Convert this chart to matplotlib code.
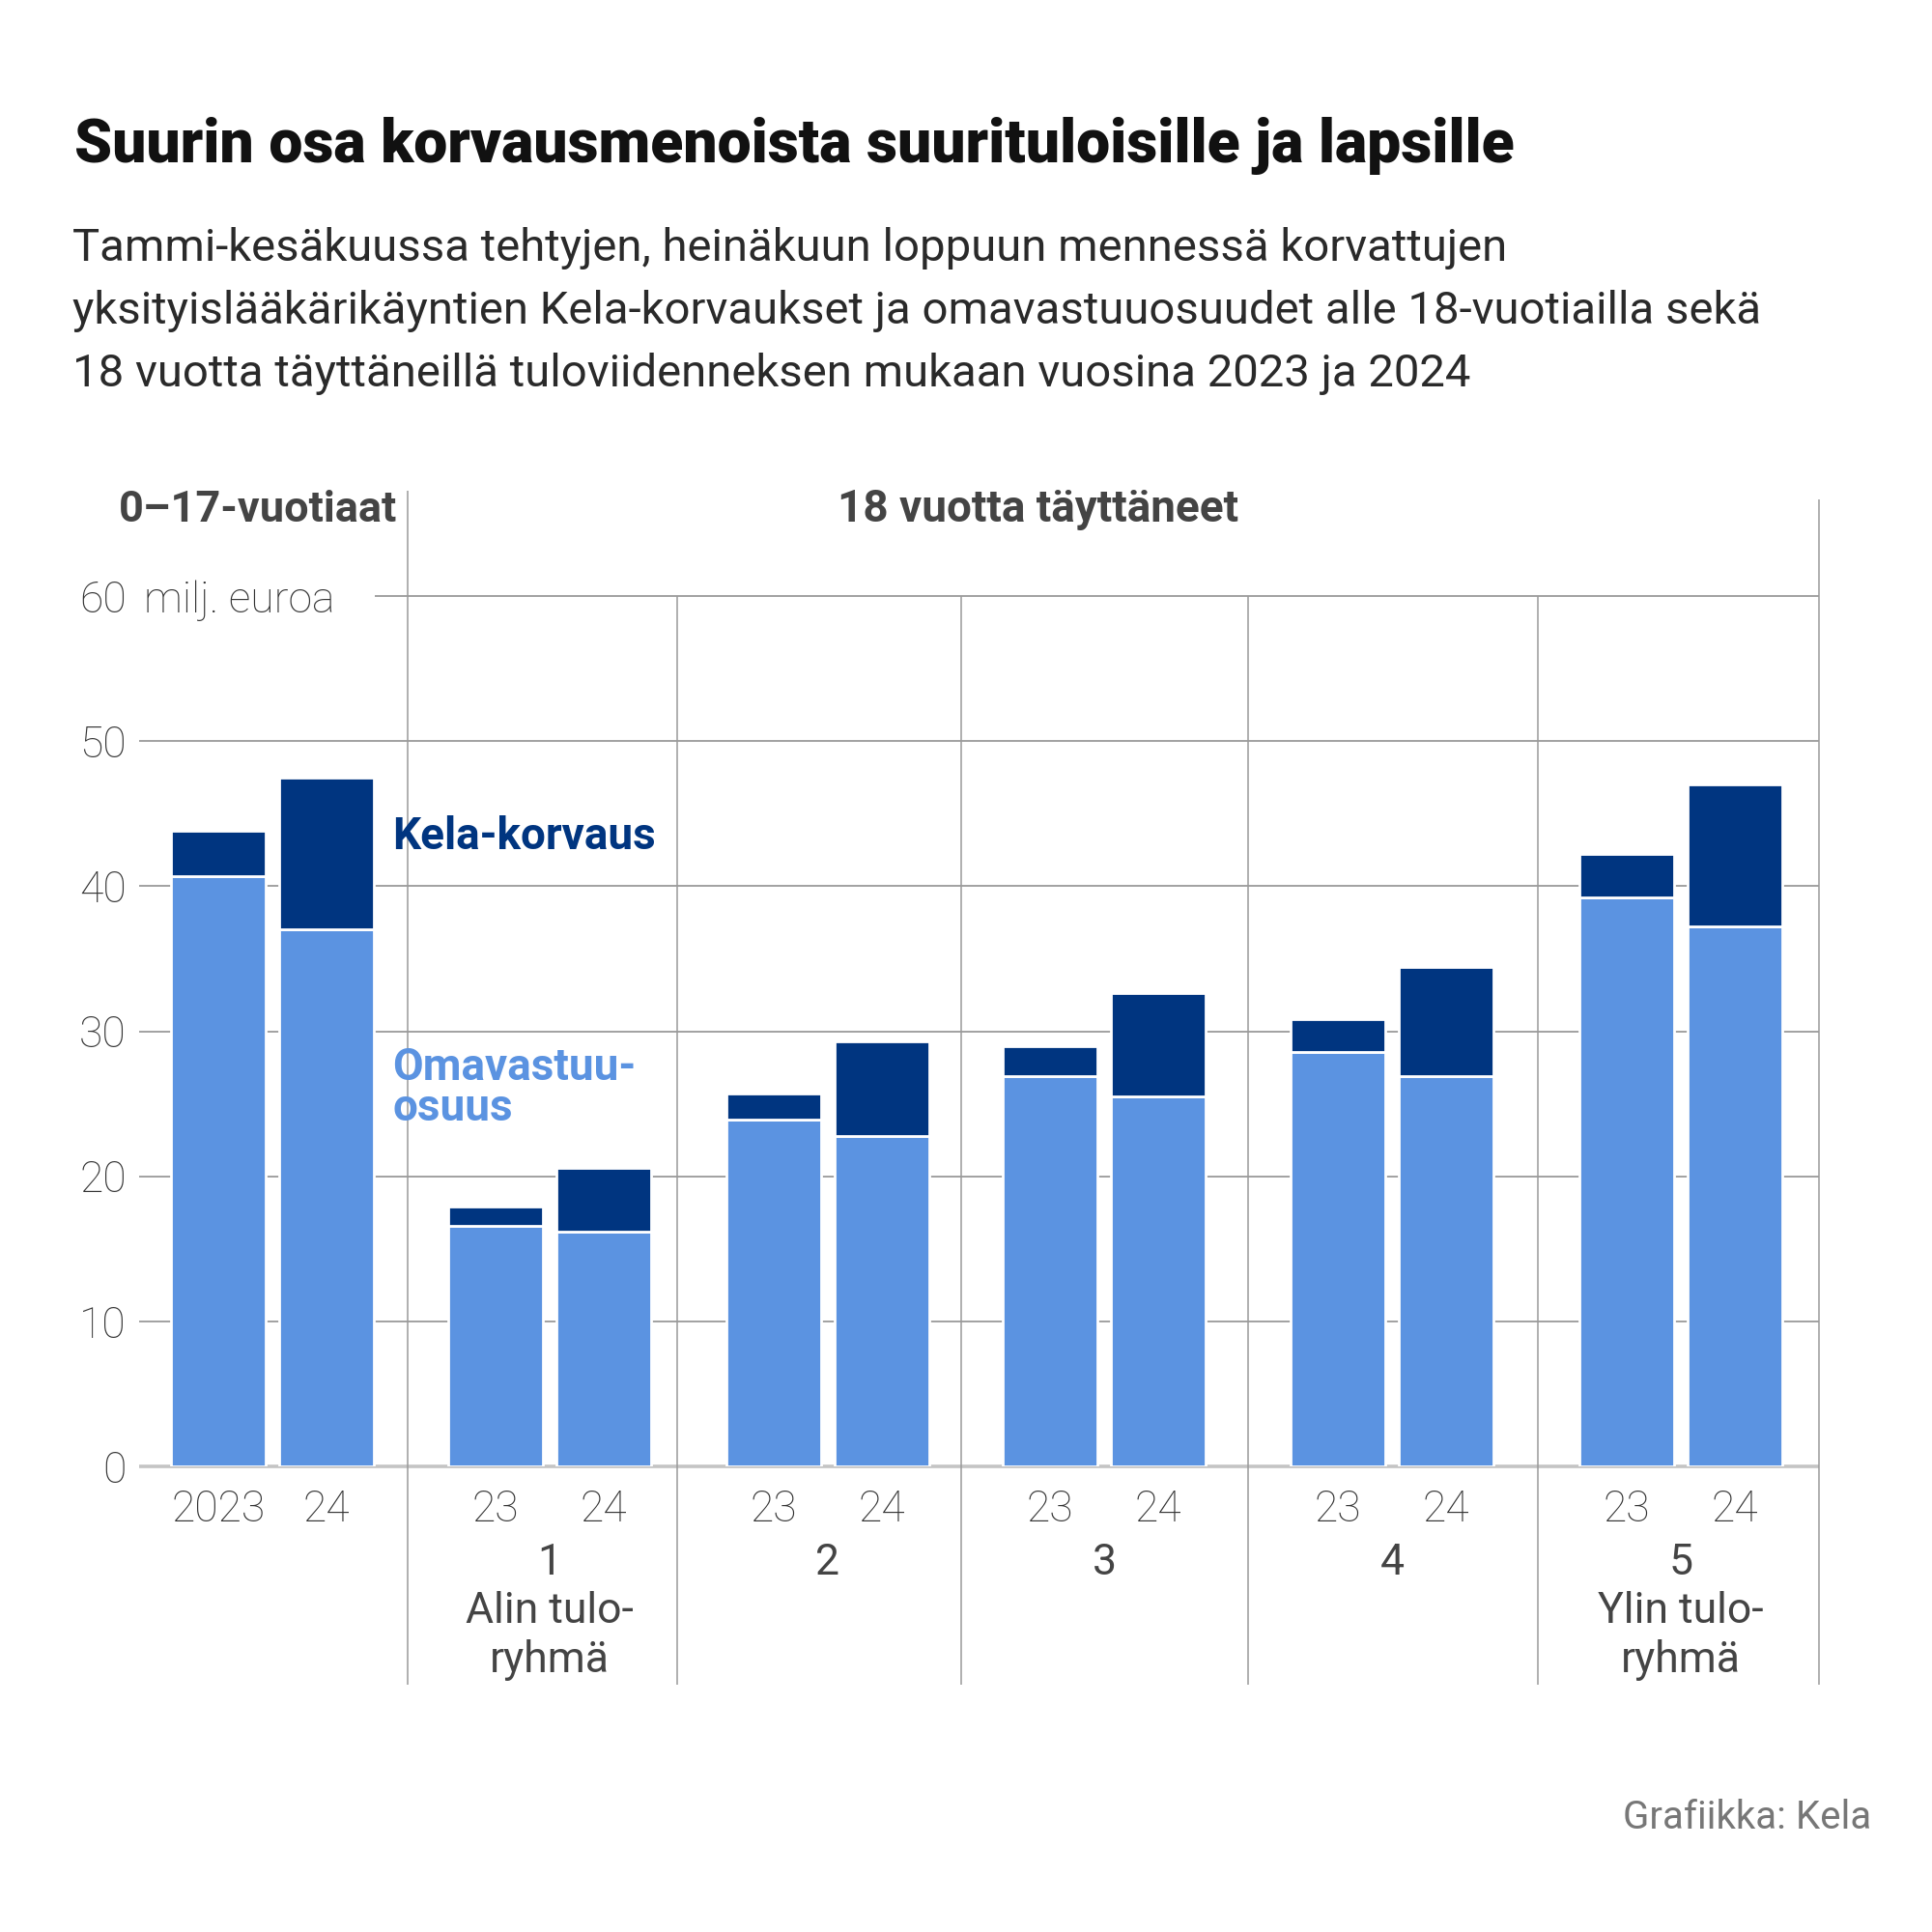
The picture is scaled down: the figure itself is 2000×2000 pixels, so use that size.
import matplotlib
matplotlib.use("Agg")
import matplotlib.pyplot as plt

# ---------------- data ----------------
groups = ["0–17-vuotiaat", "1", "2", "3", "4", "5"]
group_sublabels = [[], ["Alin tulo-", "ryhmä"], [], [], [], ["Ylin tulo-", "ryhmä"]]
year_labels_first = ["2023", "24"]
year_labels = ["23", "24"]
omavastuu_2023 = [40.7, 16.6, 23.9, 26.9, 28.6, 39.2]
omavastuu_2024 = [37.0, 16.2, 22.8, 25.5, 26.9, 37.2]
kela_2023 = [3.1, 1.3, 1.8, 2.1, 2.2, 3.0]
kela_2024 = [10.5, 4.4, 6.5, 7.1, 7.5, 9.8]
y_ticks = [0, 10, 20, 30, 40, 50, 60]

title = "Suurin osa korvausmenoista suurituloisille ja lapsille"
subtitle = ["Tammi-kesäkuussa tehtyjen, heinäkuun loppuun mennessä korvattujen",
            "yksityislääkärikäyntien Kela-korvaukset ja omavastuuosuudet alle 18-vuotiailla sekä",
            "18 vuotta täyttäneillä tuloviidenneksen mukaan vuosina 2023 ja 2024"]

# ---------------- style / layout ----------------
FONT = ["Roboto", "DejaVu Sans"]
plt.rcParams["font.family"] = FONT
C_LIGHT = "#5B93E1"
C_DARK = "#003580"
C_GRID = "#9a9a9a"
C_TEXT = "#333333"
W, H = 2000, 2000

# layout in reference pixels (x from left, y from top)
group_centers = [282, 569, 857, 1143, 1441, 1740]
bar_offset = 56
bar_width = 98
separators = [422, 701, 995, 1292, 1592, 1883]
X0, X1 = 144, 1883
Y_ZERO, Y_SIXTY = 1518, 617

fig = plt.figure(figsize=(20, 20), dpi=100)
ax = fig.add_axes([X0 / W, 1 - Y_ZERO / H, (X1 - X0) / W, (Y_ZERO - Y_SIXTY) / H])
ax.set_xlim(X0, X1)
ax.set_ylim(0, 60)
ax.axis("off")

def yval(py):
    return (Y_ZERO - py) / (Y_ZERO - Y_SIXTY) * 60

# gridlines
for t in y_ticks[1:-1]:
    ax.hlines(t, X0, X1, color=C_GRID, lw=1.3, zorder=1)
ax.hlines(60, 388, X1, color=C_GRID, lw=1.3, zorder=1, clip_on=False)
ax.hlines(0, X0, X1, color="#c4c4c4", lw=2.6, zorder=1, clip_on=False)

# vertical separators
for i, sx in enumerate(separators):
    top = yval(508) if i == 0 else (yval(517) if i == len(separators) - 1 else 60)
    ax.vlines(sx, yval(1744), top, color=C_GRID, lw=1.1, zorder=1, clip_on=False)

# bars
for i, gc in enumerate(group_centers):
    for j, (om, ke) in enumerate([(omavastuu_2023[i], kela_2023[i]),
                                  (omavastuu_2024[i], kela_2024[i])]):
        x = gc + (-bar_offset if j == 0 else bar_offset)
        ax.bar(x, om, width=bar_width, color=C_LIGHT, edgecolor="white", lw=2.0, zorder=3)
        ax.bar(x, ke, bottom=om, width=bar_width, color=C_DARK, edgecolor="white", lw=2.0, zorder=3)
        lab = (year_labels_first if i == 0 else year_labels)[j]
        ax.text(x, yval(1575), lab, ha="center", va="baseline", fontsize=32,
                color=C_TEXT, fontweight="light", clip_on=False)
    if i > 0:
        ax.text(gc, yval(1630), groups[i], ha="center", va="baseline", fontsize=32,
                color="#444444", clip_on=False)
        for k, line in enumerate(group_sublabels[i]):
            ax.text(gc, yval(1680 + 51 * k), line, ha="center", va="baseline",
                    fontsize=32, color="#444444", clip_on=False)

# y tick labels
for t in y_ticks:
    ax.text(131, t, str(t), ha="right", va="center_baseline", fontsize=32,
            color=C_TEXT, fontweight="light", clip_on=False)
ax.text(149, 60, "milj. euroa", ha="left", va="center_baseline", fontsize=32,
        color=C_TEXT, fontweight="light", clip_on=False)

# headers
ax.text(411, yval(540), groups[0], ha="right", va="baseline", fontsize=32.5,
        fontweight="bold", color="#444444", clip_on=False)
ax.text(1075, yval(540), "18 vuotta täyttäneet", ha="center", va="baseline", fontsize=33,
        fontweight="bold", color="#444444", clip_on=False)

# series labels
ax.text(406, yval(879), "Kela-korvaus", ha="left", va="baseline", fontsize=33,
        fontweight="bold", color=C_DARK, clip_on=False)
ax.text(406, yval(1118), "Omavastuu-", ha="left", va="baseline", fontsize=33,
        fontweight="bold", color=C_LIGHT, clip_on=False)
ax.text(406, yval(1160), "osuus", ha="left", va="baseline", fontsize=33,
        fontweight="bold", color=C_LIGHT, clip_on=False)

# title and subtitle
fig.text(77 / W, 1 - 168 / H, title, ha="left", va="baseline", fontsize=45,
         fontweight="heavy", color="#111111")
for k, line in enumerate(subtitle):
    fig.text(75 / W, 1 - (270 + 65 * k) / H, line, ha="left", va="baseline",
             fontsize=34, color="#2a2a2a")

fig.text(1937 / W, 1 - 1893 / H, "Grafiikka: Kela", ha="right", va="baseline",
         fontsize=29, color="#777777")

fig.savefig("out.png", dpi=100, facecolor="white")
